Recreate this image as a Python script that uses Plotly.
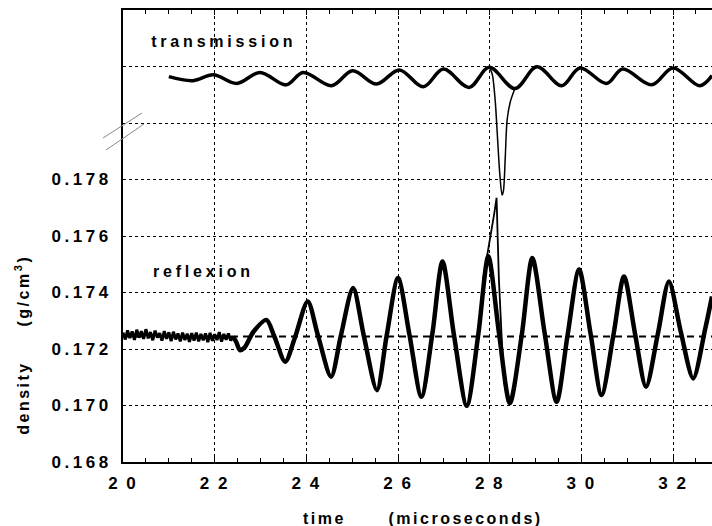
import plotly.graph_objects as go

# ---------------- data ----------------
x_tick_vals = [20, 22, 24, 26, 28, 30, 32]
x_tick_text = ["2 0", "2 2", "2 4", "2 6", "2 8", "3 0", "3 2"]
y_tick_vals = [0.168, 0.170, 0.172, 0.174, 0.176, 0.178, 0.180, 0.182]
y_tick_text = ["0.168", "0.170", "0.172", "0.174", "0.176", "0.178", "", ""]

# reflexion: noisy pre-signal part
refl_noise_t = [20.00, 20.05, 20.10, 20.15, 20.20, 20.25, 20.30, 20.35, 20.40, 20.45,
                20.50, 20.55, 20.60, 20.65, 20.70, 20.75, 20.80, 20.85, 20.90, 20.95,
                21.00, 21.05, 21.10, 21.15, 21.20, 21.25, 21.30, 21.35, 21.40, 21.45,
                21.50, 21.55, 21.60, 21.65, 21.70, 21.75, 21.80, 21.85, 21.90, 21.95,
                22.00, 22.05, 22.10, 22.15, 22.20, 22.25, 22.30, 22.35, 22.40]
refl_noise_rho = [0.17258, 0.17234, 0.17266, 0.17239, 0.17262, 0.17232, 0.17268, 0.17240, 0.17263, 0.17236,
                  0.17270, 0.17238, 0.17260, 0.17231, 0.17265, 0.17241, 0.17256, 0.17230, 0.17263, 0.17236,
                  0.17259, 0.17228, 0.17261, 0.17234, 0.17255, 0.17227, 0.17258, 0.17232, 0.17254, 0.17225,
                  0.17256, 0.17230, 0.17258, 0.17227, 0.17253, 0.17231, 0.17255, 0.17224, 0.17257, 0.17229,
                  0.17252, 0.17232, 0.17260, 0.17226, 0.17253, 0.17233, 0.17255, 0.17230, 0.17243]

# reflexion: oscillating part
refl_osc_t = [22.47, 22.55, 22.65, 22.85, 23.13, 23.30, 23.54, 23.75, 24.03, 24.25,
              24.54, 24.75, 25.02, 25.25, 25.54, 25.75, 26.00, 26.25, 26.51, 26.75,
              26.97, 27.22, 27.50, 27.75, 27.97, 28.20, 28.44, 28.70, 28.93, 29.20,
              29.46, 29.70, 29.95, 30.20, 30.44, 30.70, 30.93, 31.17, 31.41, 31.67,
              31.91, 32.17, 32.44, 32.70, 32.85]
refl_osc_rho = [0.17225, 0.17196, 0.17205, 0.17262, 0.17303, 0.17245, 0.17155, 0.17240, 0.17368, 0.17250,
                0.17102, 0.17245, 0.17416, 0.17250, 0.17054, 0.17245, 0.17451, 0.17250, 0.17031, 0.17255,
                0.17510, 0.17250, 0.16999, 0.17250, 0.17528, 0.17260, 0.17008, 0.17250, 0.17522, 0.17255,
                0.17013, 0.17250, 0.17481, 0.17255, 0.17037, 0.17250, 0.17457, 0.17255, 0.17066, 0.17255,
                0.17439, 0.17260, 0.17096, 0.17270, 0.17386]

# reflexion: second shot with the spike near 28 us
refl_spike_t = [27.85, 27.95, 28.05, 28.10, 28.15, 28.20, 28.26, 28.32, 28.40]
refl_spike_rho = [0.17440, 0.17530, 0.17620, 0.17680, 0.17735, 0.17450, 0.17244, 0.17080, 0.17010]

# transmission (extrema of the oscillation)
trans_t = [21.00, 21.53, 21.97, 22.48, 22.99, 23.56, 23.93, 24.55, 25.01, 25.53,
           26.03, 26.55, 26.99, 27.55, 27.99, 28.55, 29.03, 29.57, 29.97, 30.55,
           30.90, 31.53, 32.00, 32.58, 32.85]
trans_rho = [0.18164, 0.18150, 0.18171, 0.18140, 0.18179, 0.18135, 0.18179, 0.18132, 0.18185, 0.18138,
             0.18188, 0.18128, 0.18191, 0.18126, 0.18197, 0.18122, 0.18199, 0.18132, 0.18195, 0.18140,
             0.18191, 0.18135, 0.18195, 0.18132, 0.18168]

# transmission: second shot with the dip
trans_dip_t = [28.00, 28.06, 28.12, 28.17, 28.22, 28.27, 28.30, 28.34, 28.38, 28.45, 28.55]
trans_dip_rho = [0.18197, 0.18170, 0.18080, 0.17950, 0.17820, 0.17745, 0.17760, 0.17880, 0.18010, 0.18075, 0.18122]

# initial-density reference line
base_t = [20.0, 32.85]
base_rho = [0.17244, 0.17244]

# ---------------- figure ----------------
FONT = "Liberation Sans, Arial, sans-serif"
fig = go.Figure()

fig.add_trace(go.Scatter(x=base_t, y=base_rho, mode="lines",
                         line=dict(color="black", width=2, dash="7px,5px"), hoverinfo="skip"))
fig.add_trace(go.Scatter(x=refl_noise_t, y=refl_noise_rho, mode="lines",
                         line=dict(color="black", width=3)))
fig.add_trace(go.Scatter(x=refl_noise_t[-1:] + refl_osc_t, y=refl_noise_rho[-1:] + refl_osc_rho, mode="lines",
                         line=dict(color="black", width=4.5, shape="spline", smoothing=0.8)))
fig.add_trace(go.Scatter(x=refl_spike_t, y=refl_spike_rho, mode="lines",
                         line=dict(color="black", width=1.8)))
fig.add_trace(go.Scatter(x=trans_t, y=trans_rho, mode="lines",
                         line=dict(color="black", width=3.5, shape="spline", smoothing=1.0)))
fig.add_trace(go.Scatter(x=trans_dip_t, y=trans_dip_rho, mode="lines",
                         line=dict(color="black", width=1.5, shape="spline", smoothing=0.8)))

fig.update_layout(
    width=712, height=526,
    margin=dict(l=123, r=0, t=10, b=64),
    paper_bgcolor="white", plot_bgcolor="white",
    showlegend=False,
    font=dict(family=FONT, color="black"),
    xaxis=dict(
        range=[20, 32.85], tickmode="array", tickvals=x_tick_vals, ticktext=x_tick_text,
        showgrid=True, gridcolor="black", griddash="dot", gridwidth=1,
        showline=True, linecolor="black", linewidth=2, mirror="ticks",
        ticks="inside", ticklen=5, tickcolor="black",
        minor=dict(tick0=20, dtick=0.5, ticks="inside", ticklen=4, tickcolor="black", showgrid=False),
        zeroline=False, ticklabelstandoff=5,
        tickfont=dict(family=FONT, size=17, weight="bold", color="black"),
    ),
    yaxis=dict(
        range=[0.168, 0.184], tickmode="array", tickvals=y_tick_vals, ticktext=y_tick_text,
        showgrid=True, gridcolor="black", griddash="dot", gridwidth=1,
        showline=True, linecolor="black", linewidth=2,
        ticks="", zeroline=False, ticklabelstandoff=6,
        tickfont=dict(family=FONT, size=17, weight="bold", color="black"),
    ),
)

def ann(text, x, y, **kw):
    fig.add_annotation(text=text, xref="paper", yref="paper", x=x, y=y, showarrow=False,
                       xanchor="center", yanchor="middle",
                       font=dict(family=FONT, size=16, weight="bold", color="black"), **kw)

ann("transmission", (223.5 - 123) / 589, (462 - 41) / 452)
ann("reflexion", (203.5 - 123) / 589, (462 - 271) / 452)
ann("time", (324 - 123) / 589, (462 - 518) / 452)
ann("(microseconds)", (465 - 123) / 589, (462 - 518) / 452)
ann("density&nbsp;&nbsp;&nbsp;&nbsp;&nbsp;(g/cm<sup>3</sup>)", (22 - 123) / 589, (462 - 345) / 452, textangle=-90)

# axis-break marks on the left axis
for (x0, y0, x1, y1) in [(103, 138, 142, 113), (106, 150, 144, 124)]:
    fig.add_shape(type="line", xref="paper", yref="paper",
                  x0=(x0 - 123) / 589, y0=(462 - y0) / 452, x1=(x1 - 123) / 589, y1=(462 - y1) / 452,
                  line=dict(color="#888888", width=1))

post = """
document.body.style.margin = '0';
document.body.style.padding = '0';
var gd = document.getElementById('{plot_id}');
function applyLS(){
  gd.querySelectorAll('.xtick text').forEach(function(e){e.style.letterSpacing='2px';});
  gd.querySelectorAll('.ytick text').forEach(function(e){e.style.letterSpacing='3.5px';});
  gd.querySelectorAll('.annotation-text').forEach(function(e){
    var t = e.textContent;
    e.style.letterSpacing = (t.indexOf('transmission') >= 0 || t.indexOf('reflexion') >= 0) ? '3.8px' : '2.5px';
  });
}
applyLS();
setTimeout(applyLS, 0);
if (gd.on) { gd.on('plotly_afterplot', applyLS); }
"""

fig.write_html("out.html", post_script=post, config={"displayModeBar": False})
